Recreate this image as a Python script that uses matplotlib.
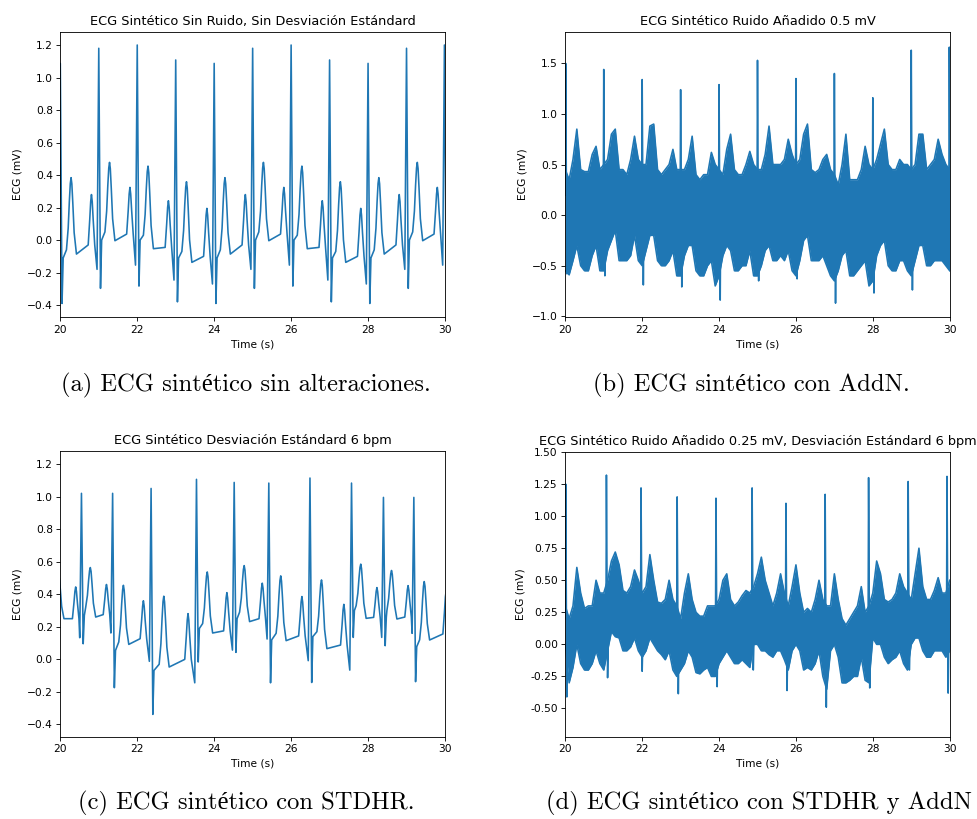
import numpy as np
import matplotlib
matplotlib.use("Agg")
import matplotlib.pyplot as plt

BLUE = "#1f77b4"

# ---------------- Panel (a): clean ECG, per-beat landmarks ----------------
a_r_t = [20.0, 21.0, 22.0, 23.0, 24.0, 25.0, 26.0, 27.0, 28.0, 29.0, 29.985]
a_r_v = [1.087, 1.18, 1.2, 1.108, 1.087, 1.18, 1.2, 1.108, 1.087, 1.18, 1.2]
a_q_v = [-0.27, -0.18, -0.154, -0.246, -0.27, -0.18, -0.154, -0.246, -0.27, -0.18, -0.154]
a_s_v = [-0.39, -0.297, -0.283, -0.38, -0.39, -0.297, -0.283, -0.38, -0.39, -0.297, -0.283]
a_p_t = [19.81, 20.81, 21.81, 22.81, 23.81, 24.81, 25.81, 26.81, 27.81, 28.81, 29.80]
a_p_v = [0.195, 0.28, 0.324, 0.242, 0.195, 0.28, 0.324, 0.242, 0.195, 0.28, 0.324]
a_pb_v = [-0.10, -0.03, 0.037, -0.045, -0.10, -0.03, 0.037, -0.045, -0.10, -0.03, 0.037]
a_j_v = [-0.11, 0.0, 0.0, -0.11, -0.11, 0.0, 0.0, -0.11, -0.11, 0.0, 0.0]
a_tl_v = [-0.06, 0.05, 0.03, -0.07, -0.06, 0.05, 0.03, -0.07, -0.06, 0.05, 0.03]
a_t_t = [20.28, 21.28, 22.28, 23.28, 24.28, 25.28, 26.28, 27.28, 28.28, 29.28, 30.27]
a_t_v = [0.384, 0.478, 0.455, 0.359, 0.384, 0.478, 0.455, 0.359, 0.384, 0.478, 0.455]
a_te_v = [-0.086, -0.004, -0.053, -0.137, -0.086, -0.004, -0.053, -0.137, -0.086, -0.004, -0.053]

# ---------------- Panel (c): clean ECG with heart-rate deviation ----------------
c_r_t = [19.62, 20.55, 21.36, 22.36, 23.54, 24.52, 25.42, 26.49, 27.57, 28.40, 29.19, 30.20]
c_r_v = [1.0, 1.02, 1.02, 1.05, 1.106, 1.087, 1.083, 1.114, 1.083, 0.995, 0.995, 1.0]
c_q_v = [0.15, 0.133, 0.162, -0.012, -0.144, 0.057, 0.125, -0.008, -0.066, 0.135, 0.16, 0.1]
c_s_v = [0.1, 0.096, -0.174, -0.338, -0.016, 0.043, -0.144, -0.142, 0.135, 0.084, -0.137, 0.0]
c_p_t = [19.45, 20.40, 21.20, 22.16, 23.32, 24.33, 25.25, 26.28, 27.37, 28.23, 29.04, 30.03]
c_p_v = [0.45, 0.445, 0.46, 0.36, 0.281, 0.41, 0.468, 0.386, 0.338, 0.441, 0.453, 0.42]
c_pb_v = [0.25, 0.25, 0.275, 0.127, 0.0, 0.175, 0.25, 0.144, 0.088, 0.258, 0.26, 0.156]
c_j_v = [0.27, 0.27, 0.055, -0.068, 0.19, 0.25, 0.12, 0.14, 0.30, 0.26, 0.078, 0.2]
c_tl_v = [0.3, 0.32, 0.107, -0.03, 0.22, 0.29, 0.16, 0.17, 0.33, 0.30, 0.12, 0.25]
c_t_t = [19.955, 20.78, 21.64, 22.69, 23.82, 24.78, 25.73, 26.79, 27.81, 28.61, 29.46, 30.45]
c_t_v = [0.52, 0.564, 0.455, 0.388, 0.537, 0.576, 0.513, 0.488, 0.585, 0.546, 0.478, 0.5]
c_te_v = [0.25, 0.26, 0.092, -0.047, 0.162, 0.232, 0.115, 0.066, 0.252, 0.248, 0.119, 0.2]

# ---------------- Panel (b): noisy ECG (0.5 mV), envelope read every 0.1 s ----------------
b_up = [0.45, 0.35, 0.55, 0.85, 0.45, 0.43, 0.43, 0.60, 0.68, 0.45,
        0.50, 0.55, 0.80, 0.85, 0.45, 0.45, 0.40, 0.55, 0.78, 0.55,
        0.50, 0.50, 0.88, 0.90, 0.45, 0.40, 0.45, 0.50, 0.65, 0.45,
        0.45, 0.45, 0.55, 0.78, 0.40, 0.35, 0.40, 0.40, 0.62, 0.50,
        0.45, 0.40, 0.65, 0.80, 0.45, 0.40, 0.40, 0.50, 0.63, 0.50,
        0.45, 0.45, 0.60, 0.88, 0.50, 0.50, 0.50, 0.55, 0.75, 0.60,
        0.50, 0.55, 0.80, 0.90, 0.45, 0.42, 0.45, 0.55, 0.60, 0.45,
        0.40, 0.30, 0.50, 0.80, 0.35, 0.35, 0.35, 0.45, 0.68, 0.50,
        0.45, 0.55, 0.70, 0.85, 0.50, 0.45, 0.45, 0.55, 0.50, 0.50,
        0.45, 0.50, 0.80, 0.80, 0.45, 0.50, 0.55, 0.75, 0.60, 0.50,
        0.45]
b_lo = [-0.55, -0.59, -0.45, -0.30, -0.50, -0.55, -0.55, -0.40, -0.30, -0.55,
        -0.55, -0.35, -0.25, -0.15, -0.45, -0.45, -0.45, -0.40, -0.20, -0.45,
        -0.50, -0.35, -0.20, -0.20, -0.45, -0.50, -0.50, -0.45, -0.35, -0.60,
        -0.60, -0.40, -0.30, -0.30, -0.55, -0.60, -0.60, -0.50, -0.45, -0.70,
        -0.60, -0.40, -0.30, -0.35, -0.55, -0.55, -0.50, -0.50, -0.35, -0.60,
        -0.60, -0.50, -0.35, -0.30, -0.45, -0.45, -0.40, -0.45, -0.35, -0.55,
        -0.60, -0.45, -0.25, -0.20, -0.45, -0.45, -0.45, -0.40, -0.50, -0.60,
        -0.65, -0.55, -0.40, -0.35, -0.60, -0.60, -0.55, -0.50, -0.45, -0.70,
        -0.65, -0.40, -0.30, -0.25, -0.50, -0.55, -0.55, -0.45, -0.45, -0.55,
        -0.60, -0.45, -0.30, -0.30, -0.50, -0.50, -0.45, -0.45, -0.45, -0.50,
        -0.55]
b_spk_t = [20.01, 21.0, 22.0, 23.0, 24.0, 25.0, 26.0, 27.0, 28.0, 29.0, 29.99]
b_spk_top = [1.5, 1.44, 1.34, 1.24, 1.29, 1.53, 1.35, 1.40, 1.16, 1.63, 1.66]
b_spk_bot = [-0.58, -0.60, -0.69, -0.71, -0.84, -0.65, -0.63, -0.87, -0.77, -0.74, -0.55]

# ---------------- Panel (d): noisy ECG (0.25 mV) + HR deviation ----------------
d_up = [0.30, 0.20, 0.30, 0.60, 0.40, 0.28, 0.30, 0.30, 0.50, 0.40,
        0.40, 0.50, 0.65, 0.72, 0.62, 0.42, 0.40, 0.45, 0.58, 0.50,
        0.40, 0.45, 0.70, 0.50, 0.33, 0.32, 0.35, 0.50, 0.35, 0.30,
        0.20, 0.40, 0.55, 0.35, 0.25, 0.22, 0.22, 0.30, 0.30, 0.30,
        0.35, 0.50, 0.55, 0.35, 0.30, 0.33, 0.38, 0.42, 0.40, 0.45,
        0.55, 0.68, 0.50, 0.40, 0.30, 0.40, 0.55, 0.40, 0.30, 0.45,
        0.62, 0.40, 0.25, 0.28, 0.25, 0.35, 0.50, 0.35, 0.30, 0.30,
        0.55, 0.35, 0.20, 0.15, 0.20, 0.25, 0.30, 0.45, 0.25, 0.30,
        0.40, 0.65, 0.55, 0.35, 0.33, 0.35, 0.40, 0.55, 0.45, 0.40,
        0.35, 0.55, 0.75, 0.45, 0.35, 0.35, 0.42, 0.52, 0.40, 0.40,
        0.50]
d_lo = [0.00, -0.30, -0.18, 0.00, -0.15, -0.20, -0.20, -0.15, -0.05, -0.15,
        -0.20, -0.05, 0.10, 0.06, 0.05, -0.05, -0.05, -0.02, 0.05, -0.05,
        -0.10, -0.05, 0.05, 0.00, -0.05, -0.08, -0.12, -0.05, -0.20, -0.25,
        -0.20, -0.15, -0.05, -0.10, -0.22, -0.23, -0.20, -0.18, -0.25, -0.25,
        -0.15, -0.10, -0.05, -0.10, -0.15, -0.15, -0.12, -0.15, -0.18, 0.00,
        0.00, -0.05, -0.05, -0.08, -0.10, -0.05, -0.05, -0.12, -0.20, -0.05,
        0.00, -0.05, -0.20, -0.18, -0.20, -0.15, -0.05, -0.25, -0.35, -0.05,
        0.00, -0.10, -0.30, -0.30, -0.28, -0.25, -0.25, -0.10, -0.28, -0.30,
        0.05, 0.00, 0.00, -0.10, -0.15, -0.12, -0.10, -0.05, -0.15, -0.20,
        0.00, 0.05, 0.05, -0.05, -0.10, -0.10, -0.05, -0.05, -0.05, -0.10,
        -0.05]
d_spk_t = [20.01, 21.07, 21.97, 22.91, 23.92, 24.86, 25.74, 26.76, 27.89, 28.92, 29.93]
d_spk_top = [1.25, 1.32, 1.22, 1.15, 1.14, 1.22, 1.10, 1.17, 1.30, 1.27, 1.31]
d_spk_bot = [-0.41, -0.26, -0.21, -0.385, -0.33, -0.20, -0.36, -0.49, -0.34, -0.20, -0.38]

env_t = np.linspace(20.0, 30.0, 101)

titles = ["ECG Sintético Sin Ruido, Sin Desviación Estándard",
          "ECG Sintético Ruido Añadido 0.5 mV",
          "ECG Sintético Desviación Estándard 6 bpm",
          "ECG Sintético Ruido Añadido 0.25 mV, Desviación Estándard 6 bpm"]
captions = ["(a) ECG sintético sin alteraciones.",
            "(b) ECG sintético con AddN.",
            "(c) ECG sintético con STDHR.",
            "(d) ECG sintético con STDHR y AddN"]

# ---------------- waveform shape template (style) ----------------
P_DT = [-0.085, -0.045, -0.02, 0.0, 0.02, 0.045, 0.085]
P_FR = [0.0, 0.5, 0.86, 1.0, 0.86, 0.5, 0.0]
T_DT = [-0.12, -0.075, -0.045, -0.02, 0.0, 0.02, 0.045, 0.08, 0.14]
T_FR = [0.0, 0.3, 0.67, 0.92, 1.0, 0.92, 0.67, 0.28, 0.0]
Q_DT, S_DT, J_DT = -0.045, 0.045, 0.075


def beat_path(p_t, pb, p_v, q_v, r_t, r_v, s_v, j_v, tl, t_t, t_v, te):
    xs, ys = [], []
    for k in range(len(r_t)):
        for d, f in zip(P_DT, P_FR):
            xs.append(p_t[k] + d)
            ys.append(pb[k] + f * (p_v[k] - pb[k]))
        xs += [r_t[k] + Q_DT, r_t[k], r_t[k] + S_DT, r_t[k] + J_DT]
        ys += [q_v[k], r_v[k], s_v[k], j_v[k]]
        for d, f in zip(T_DT, T_FR):
            base = tl[k] if d < 0 else te[k]
            xs.append(t_t[k] + d)
            ys.append(base + f * (t_v[k] - base))
    return xs, ys


def spikes(ts, tops, bots):
    xs, ys = [], []
    for t, a, b in zip(ts, tops, bots):
        xs += [t - 0.012, t, t + 0.03, t + 0.045, np.nan]
        ys += [0.2, a, b, 0.0, np.nan]
    return xs, ys


fig = plt.figure(figsize=(9.77, 8.19), dpi=100)
W, H = 977.0, 819.0
boxes = [(60.3, 32.0, 445.0, 317.3), (565.3, 32.0, 949.7, 317.3),
         (60.3, 451.0, 445.0, 736.7), (565.3, 452.0, 949.7, 736.7)]
axes = []
for (x0, y0, x1, y1) in boxes:
    axes.append(fig.add_axes([x0 / W, 1 - y1 / H, (x1 - x0) / W, (y1 - y0) / H]))

LW = 1.16
FS_T = 9.3
FS = 7.7

# (a)
xa, ya = beat_path(a_p_t, a_pb_v, a_p_v, a_q_v, a_r_t, a_r_v, a_s_v, a_j_v,
                   a_tl_v, a_t_t, a_t_v, a_te_v)
axes[0].plot(xa, ya, color=BLUE, lw=LW)
axes[0].set_ylim(-0.475, 1.28)
axes[0].set_yticks([-0.4, -0.2, 0.0, 0.2, 0.4, 0.6, 0.8, 1.0, 1.2])

# (c)
xc, yc = beat_path(c_p_t, c_pb_v, c_p_v, c_q_v, c_r_t, c_r_v, c_s_v, c_j_v,
                   c_tl_v, c_t_t, c_t_v, c_te_v)
axes[2].plot(xc, yc, color=BLUE, lw=LW)
axes[2].set_ylim(-0.475, 1.28)
axes[2].set_yticks([-0.4, -0.2, 0.0, 0.2, 0.4, 0.6, 0.8, 1.0, 1.2])

# (b)
axes[1].fill_between(env_t, b_lo, b_up, color=BLUE, lw=0)
axes[1].plot(env_t, b_up, color=BLUE, lw=LW)
axes[1].plot(env_t, b_lo, color=BLUE, lw=LW)
xs, ys = spikes(b_spk_t, b_spk_top, b_spk_bot)
axes[1].plot(xs, ys, color=BLUE, lw=LW)
axes[1].set_ylim(-1.01, 1.81)
axes[1].set_yticks([-1.0, -0.5, 0.0, 0.5, 1.0, 1.5])

# (d)
axes[3].fill_between(env_t, d_lo, d_up, color=BLUE, lw=0)
axes[3].plot(env_t, d_up, color=BLUE, lw=LW)
axes[3].plot(env_t, d_lo, color=BLUE, lw=LW)
xs, ys = spikes(d_spk_t, d_spk_top, d_spk_bot)
axes[3].plot(xs, ys, color=BLUE, lw=LW)
axes[3].set_ylim(-0.72, 1.50)
axes[3].set_yticks([-0.5, -0.25, 0.0, 0.25, 0.5, 0.75, 1.0, 1.25, 1.5])
axes[3].yaxis.set_major_formatter(matplotlib.ticker.FormatStrFormatter("%.2f"))

for ax, ttl in zip(axes, titles):
    ax.set_xlim(20, 30)
    ax.set_xticks([20, 22, 24, 26, 28, 30])
    ax.set_title(ttl, fontsize=FS_T, pad=4.7)
    ax.set_xlabel("Time (s)", fontsize=FS, labelpad=3.1)
    ax.set_ylabel("ECG (mV)", fontsize=FS, labelpad=3.1)
    ax.tick_params(labelsize=FS, length=2.7, width=0.62, pad=2.7)
    for sp in ax.spines.values():
        sp.set_linewidth(0.62)

cap_pos = [(246, 385, "center"), (751, 385, "center"),
           (246, 803, "center"), (972, 803, "right")]
for (cx, cy, ha), cap in zip(cap_pos, captions):
    fig.text(cx / W, 1 - cy / H, cap, ha=ha, va="center",
             fontsize=17.7, family=["cmr10", "Liberation Serif"])

fig.savefig("out.png", dpi=100)
